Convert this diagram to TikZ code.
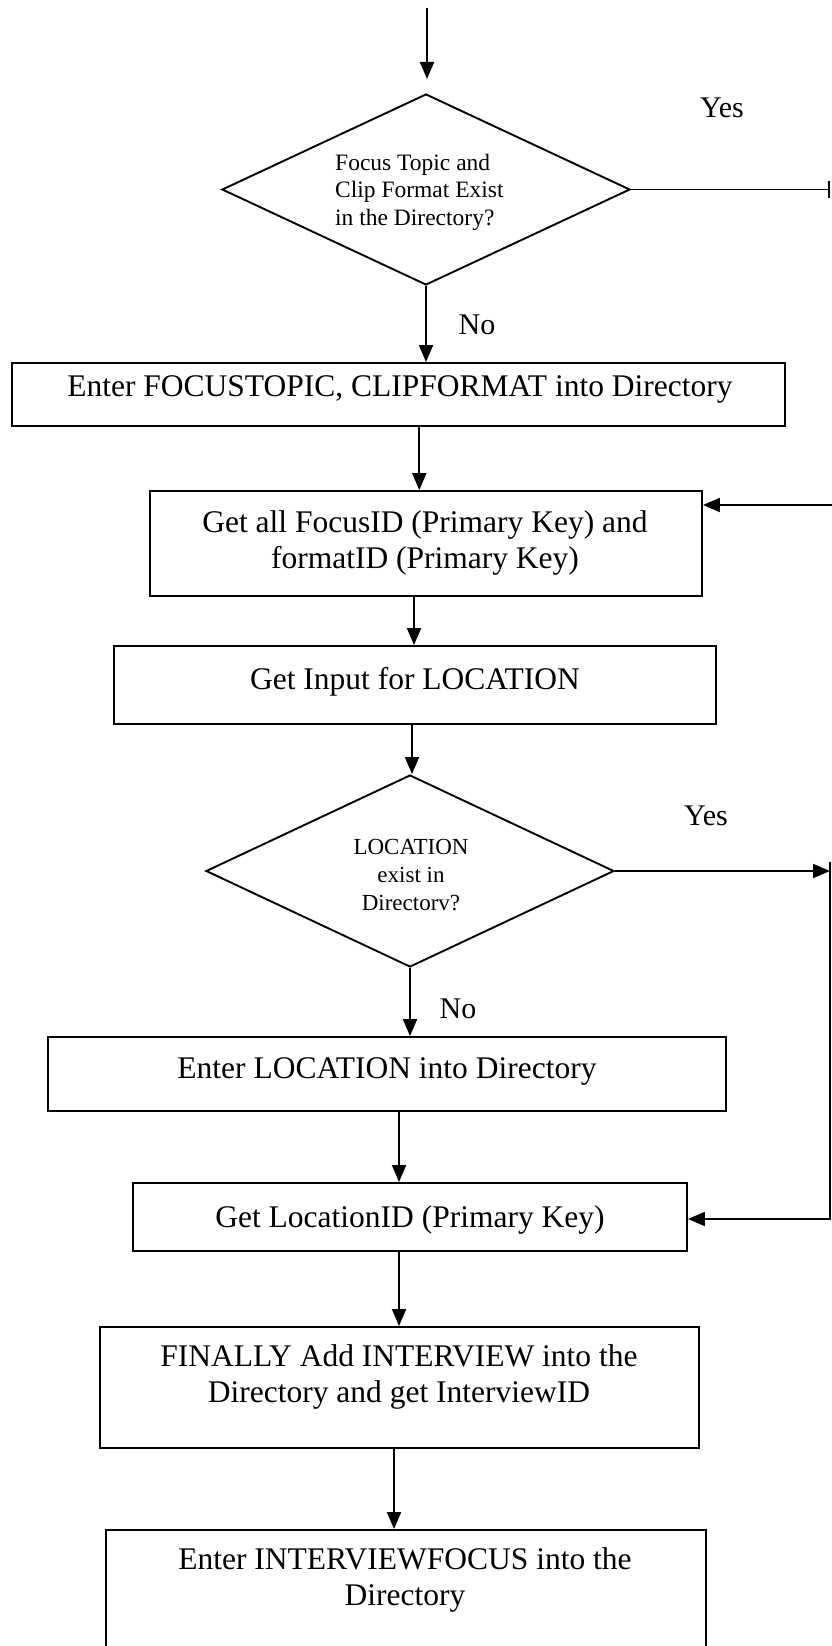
\documentclass[tikz,border=0pt]{standalone}
\usepackage{fontspec}
\setmainfont{Liberation Serif}
\usetikzlibrary{shapes.geometric,arrows.meta}

\tikzset{
  flowline/.style={line width=1.9pt, draw=black},
  arr/.style={flowline, -{Triangle[length=17pt,width=14pt]}},
  stepbox/.style={draw=black, line width=1.9pt, rectangle, inner sep=0pt},
  decision/.style={draw=black, line width=1.9pt, diamond, inner sep=0pt},
  boxtext/.style={inner sep=0pt, align=center, font=\fontsize{31.5}{35.5}\selectfont},
  dectext/.style={inner sep=0pt, font=\fontsize{23.5}{27.5}\selectfont},
  answer/.style={inner sep=0pt, font=\fontsize{30}{34}\selectfont}
}

\begin{document}
\begin{tikzpicture}[x=1pt,y=-1pt]
\useasboundingbox (0,0) rectangle (832,1646);
\clip (0,0) rectangle (832,1646);

% decisions
\node[decision, minimum width=408pt, minimum height=191pt] (d1) at (426,189.5) {};
\node[dectext, align=left, anchor=west] (d1t) at (335,192)
  {Focus Topic and\\Clip Format Exist\\in the Directory?};

\node[decision, minimum width=408pt, minimum height=192pt] (d2) at (410,871) {};
\node[dectext, align=center, font=\fontsize{23}{28}\selectfont] (d2t) at (411,875)
  {LOCATION\\exist in\\Directorv?};

% process boxes
\node[stepbox, minimum width=773.5pt, minimum height=63pt]  (b1) at (398.3,394.5) {};
\node[stepbox, minimum width=552pt,   minimum height=105pt] (b2) at (426,543.5) {};
\node[stepbox, minimum width=602pt,   minimum height=78pt]  (b3) at (415,685) {};
\node[stepbox, minimum width=678pt,   minimum height=74pt]  (b4) at (387,1074) {};
\node[stepbox, minimum width=554pt,   minimum height=68pt]  (b5) at (410,1217) {};
\node[stepbox, minimum width=599pt,   minimum height=121pt] (b6) at (399.5,1387.5) {};
\node[stepbox, minimum width=600pt,   minimum height=170pt] (b7) at (406,1615) {};

\node[boxtext] (b1t) at (400,389) {Enter FOCUSTOPIC, CLIPFORMAT into Directory};
\node[boxtext] (b2t) at (425,543) {Get all FocusID (Primary Key) and\\formatID (Primary Key)};
\node[boxtext] (b3t) at (415,681.7) {Get Input for LOCATION};
\node[boxtext] (b4t) at (387,1071.5) {Enter LOCATION into Directory};
\node[boxtext] (b5t) at (410,1219.5) {Get LocationID (Primary Key)};
\node[boxtext] (b6t) at (399,1377) {FINALLY Add INTERVIEW into the\\Directory and get InterviewID};
\node[boxtext] (b7t) at (405,1580) {Enter INTERVIEWFOCUS into the\\Directory};

% answer labels
\node[answer] (y1) at (722,108) {Yes};
\node[answer] (n1) at (477,325) {No};
\node[answer] (y2) at (706,816) {Yes};
\node[answer] (n2) at (458,1009) {No};

% free ends
\coordinate (start) at (427,8);
\coordinate (y1end) at (830,189.5);
\coordinate (loopin) at (832,505);
\coordinate (v2top) at (830,862);
\coordinate (v2bot) at (830,1219);

% connectors
\draw[arr] (start) -- (start |- {(0,79)});
\draw[flowline, -{Bar[width=17pt,line width=1.9pt]}] (d1.east) -- (y1end);
\draw[arr] (d1.south) -- (d1.south |- b1.north);
\draw[arr] ([xshift=21pt]b1.south) -- ([xshift=21pt]b1.south |- b2.north);
\draw[arr] (loopin) -- (loopin -| b2.east);
\draw[arr] ([xshift=-12pt]b2.south) -- ([xshift=-12pt]b2.south |- b3.north);
\draw[arr] ([xshift=-3pt]b3.south) -- ([xshift=-3pt]b3.south |- d2.north);
\draw[arr] (d2.east) -- (d2.east -| v2top);
\draw[arr] (v2top) -- (v2bot) -- (v2bot -| b5.east);
\draw[arr] (d2.south) -- (d2.south |- b4.north);
\draw[arr] ([xshift=12pt]b4.south) -- ([xshift=12pt]b4.south |- b5.north);
\draw[arr] ([xshift=-11pt]b5.south) -- ([xshift=-11pt]b5.south |- b6.north);
\draw[arr] ([xshift=-5.5pt]b6.south) -- ([xshift=-5.5pt]b6.south |- b7.north);
\end{tikzpicture}
\end{document}
